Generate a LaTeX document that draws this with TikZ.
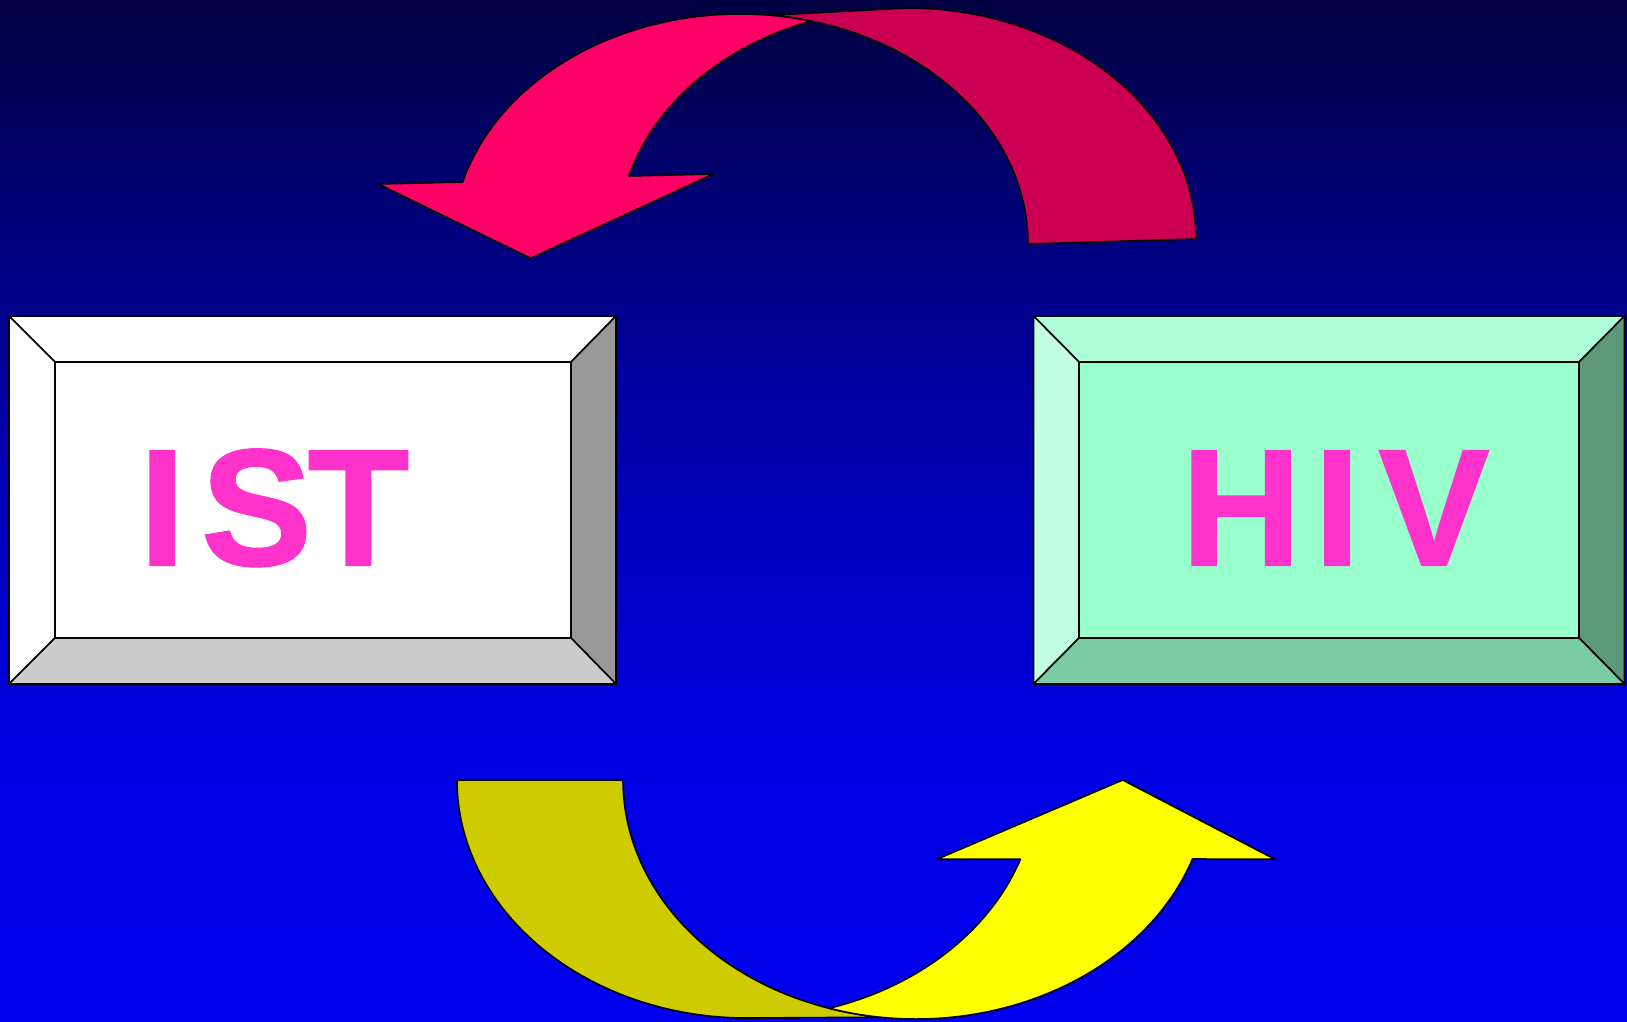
\documentclass[tikz,border=0pt]{standalone}
\usepackage{fontspec}
\setmainfont{Liberation Sans}
\newfontfamily\wordfont{Liberation Sans}[FakeBold=1.2]
\usetikzlibrary{calc}
\definecolor{bgA}{RGB}{0,0,66}
\definecolor{bgB}{RGB}{0,0,128}
\definecolor{bgC}{RGB}{0,0,185}
\definecolor{bgD}{RGB}{0,0,226}
\definecolor{bgE}{RGB}{0,0,240}
\definecolor{redFront}{RGB}{255,0,102}
\definecolor{redBack}{RGB}{204,0,82}
\definecolor{yelFront}{RGB}{255,255,0}
\definecolor{yelBack}{RGB}{206,204,0}
\definecolor{istFace}{RGB}{255,255,255}
\definecolor{istRight}{RGB}{153,153,153}
\definecolor{istBot}{RGB}{204,204,204}
\definecolor{hivFace}{RGB}{153,255,204}
\definecolor{hivTop}{RGB}{172,255,214}
\definecolor{hivLeft}{RGB}{194,255,226}
\definecolor{hivRight}{RGB}{92,153,122}
\definecolor{hivBot}{RGB}{122,204,163}
\definecolor{txtPink}{RGB}{255,51,204}
\pgfdeclareverticalshading{bgshade}{100bp}{color(0bp)=(bgE); color(25bp)=(bgE); color(38.3bp)=(bgD); color(50.5bp)=(bgC); color(62.8bp)=(bgB); color(75bp)=(bgA); color(100bp)=(bgA)}
\begin{document}
\begin{tikzpicture}[x=1pt,y=-1pt,
  outl/.style={draw=black,line width=1.6pt,line join=round},
  bigword/.style={anchor=base west,inner sep=0pt,text=txtPink,font=\wordfont\bfseries\fontsize{166}{166}\selectfont}]
\shade[shading=bgshade] (0,0) rectangle (1627,1022);
\useasboundingbox (0,0) rectangle (1627,1022);

% ---- IST box ----
\coordinate (p1) at (9,316);   \coordinate (p2) at (616,316);
\coordinate (p3) at (616,684); \coordinate (p4) at (9,684);
\coordinate (q1) at (55,362);  \coordinate (q2) at (571,362);
\coordinate (q3) at (571,638); \coordinate (q4) at (55,638);
\filldraw[outl,fill=white] (p1) -- (p2) -- (q2) -- (q1) -- cycle;
\filldraw[outl,fill=white] (p1) -- (q1) -- (q4) -- (p4) -- cycle;
\filldraw[outl,fill=istRight] (p2) -- (p3) -- (q3) -- (q2) -- cycle;
\filldraw[outl,fill=istBot] (p4) -- (q4) -- (q3) -- (p3) -- cycle;
\filldraw[outl,fill=istFace] (q1) rectangle (q3);
\node[bigword] (ist) at (139,565) {I\kern16pt S\kern-4.5pt T};

% ---- HIV box ----
\coordinate (r1) at (1033.5,316); \coordinate (r2) at (1624.5,316);
\coordinate (r3) at (1624.5,684); \coordinate (r4) at (1033.5,684);
\coordinate (s1) at (1079,362);   \coordinate (s2) at (1579,362);
\coordinate (s3) at (1579,638);   \coordinate (s4) at (1079,638);
\filldraw[outl,fill=hivTop] (r1) -- (r2) -- (s2) -- (s1) -- cycle;
\filldraw[outl,fill=hivLeft] (r1) -- (s1) -- (s4) -- (r4) -- cycle;
\filldraw[outl,fill=hivRight] (r2) -- (r3) -- (s3) -- (s2) -- cycle;
\filldraw[outl,fill=hivBot] (r4) -- (s4) -- (s3) -- (r3) -- cycle;
\filldraw[outl,fill=hivFace] (s1) rectangle (s3);
\node[bigword] (hiv) at (1181,565) {H\kern13pt I\kern18.5pt V};

% ---- top curved arrow (HIV -> IST) ----
\coordinate (cA) at (740,244);
\coordinate (cB) at (907,239);
\filldraw[outl,fill=redBack]
  ($(cA)+(276:288 and 230)$) -- (907,8)
  arc[start angle=270,end angle=360,x radius=289,y radius=231]
  -- ($(cA)+(0:288 and 230)$)
  arc[start angle=360,end angle=276,x radius=288,y radius=230] -- cycle;
\filldraw[outl,fill=redFront]
  (378.3,184) -- ($(cA)+(195.64:288 and 230)$)
  arc[start angle=195.64,end angle=284.5,x radius=288,y radius=230]
  -- ($(cB)+(250.7:289 and 231)$)
  arc[start angle=250.7,end angle=195.83,x radius=289,y radius=231]
  -- (713.3,174) -- (530.7,258.3) -- cycle;

% ---- bottom curved arrow (IST -> HIV) ----
\coordinate (cD) at (747,780);
\coordinate (cE) at (916,780);
\filldraw[outl,fill=yelBack]
  (457,780) arc[start angle=180,end angle=90,x radius=290,y radius=238]
  -- ($(cE)+(97:293 and 239)$)
  arc[start angle=97,end angle=180,x radius=293,y radius=239] -- cycle;
\filldraw[outl,fill=yelFront]
  ($(cD)+(19.4:290 and 238)$)
  arc[start angle=19.4,end angle=73.2,x radius=290,y radius=238]
  -- ($(cE)+(106.9:293 and 239)$)
  arc[start angle=106.9,end angle=19.3,x radius=293,y radius=239]
  -- (1275,859.3) -- (1122.7,780) -- (936.7,859.3) -- cycle;
\end{tikzpicture}
\end{document}
